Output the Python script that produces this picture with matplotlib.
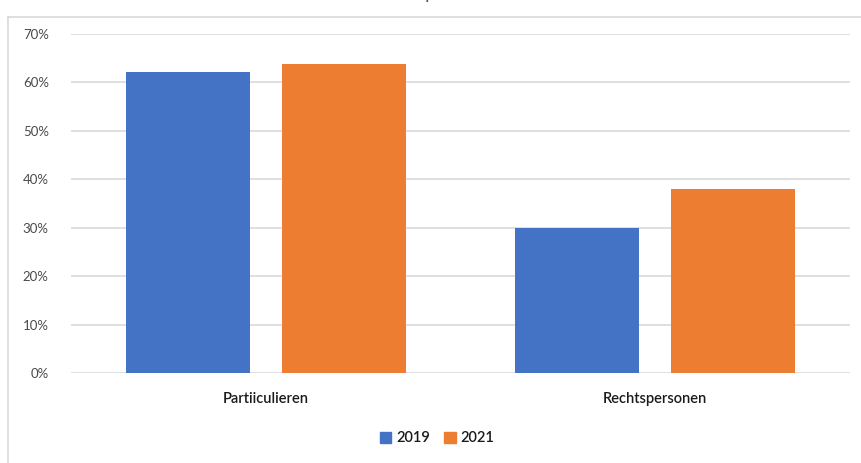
import matplotlib.pyplot as plt
import matplotlib.patches as mpatches
import numpy as np

# share per group of respondents, 2019 vs 2021
categories = ['Partiiculieren', 'Rechtspersonen']
years = ['2019', '2021']
values_2019 = [0.622, 0.300]
values_2021 = [0.639, 0.380]
colors = ['#4472C4', '#ED7D31']

plt.rcParams['font.family'] = ['Lato', 'DejaVu Sans']

fig = plt.figure(figsize=(8.62, 4.63), dpi=100)
ax = fig.add_axes([0.0824, 0.1944, 0.9037, 0.7322])

x = np.arange(len(categories))
width = 0.319
offset = 0.2
ax.bar(x - offset, values_2019, width, color=colors[0], zorder=3)
ax.bar(x + offset, values_2021, width, color=colors[1], zorder=3)

ax.set_xlim(-0.5, 1.5)
ax.set_ylim(0, 0.7)
ax.set_yticks(np.arange(0, 0.71, 0.1))
ax.set_yticklabels([f'{int(round(v * 100))}%' for v in np.arange(0, 0.71, 0.1)],
                   fontsize=9.5, color='#4a4a4a')
ax.set_xticks(x)
ax.set_xticklabels(categories, fontsize=10.5, color='#1a1a1a', fontweight='semibold')
ax.tick_params(axis='both', length=0)
ax.tick_params(axis='y', pad=16)
ax.tick_params(axis='x', pad=14)
ax.grid(axis='y', color='#d9d9d9', linewidth=1.2, zorder=0)
for s in ax.spines.values():
    s.set_visible(False)

# legend under the plot
handles = [mpatches.Patch(color=c, label=y) for c, y in zip(colors, years)]
leg = fig.legend(handles=handles, loc='center', bbox_to_anchor=(0.507, 0.053), ncol=2,
                 frameon=False, fontsize=10.5, handlelength=0.8, handleheight=0.8,
                 handletextpad=0.3, columnspacing=1.0)
for t in leg.get_texts():
    t.set_color('#1a1a1a')
    t.set_fontweight('semibold')

# outer chart frame (left and top edges)
fig.add_artist(plt.Line2D([8 / 862, 8 / 862], [0, 1 - 17 / 463], color='#d9d9d9', linewidth=1.2))
fig.add_artist(plt.Line2D([8 / 862, 1], [1 - 17 / 463, 1 - 17 / 463], color='#d9d9d9', linewidth=1.2))

# tail of the title, cut off at the top
fig.text(430 / 862, 1 + 1 / 463, 'p', ha='center', va='baseline', fontsize=14, color='#595959')

fig.savefig('out.png', dpi=100, facecolor='white')
